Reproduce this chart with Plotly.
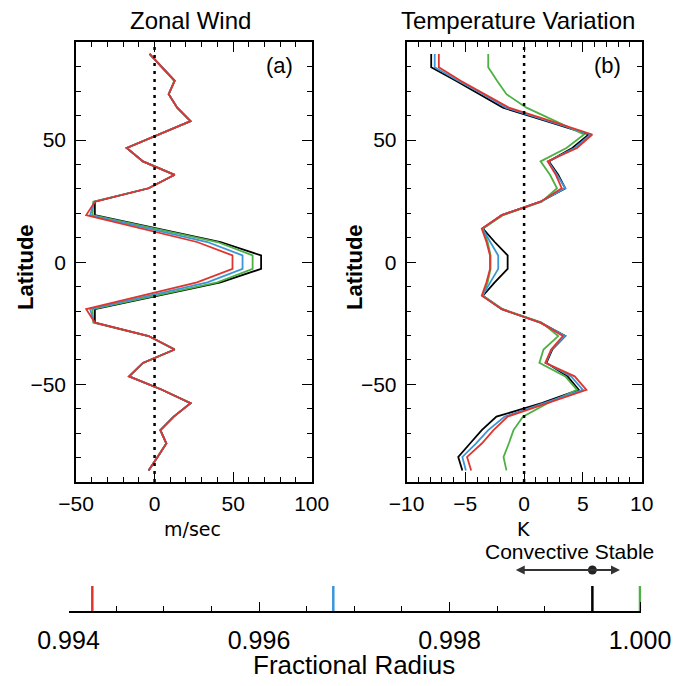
import plotly.graph_objects as go

# ---------------- data ----------------
lat = [85.25, 79.75, 74.25, 68.75, 63.25, 57.75, 52.25, 46.75, 41.25, 35.75, 30.25,
       24.75, 19.25, 13.75, 8.25, 2.75, -2.75, -8.25, -13.75, -19.25, -24.75,
       -30.25, -35.75, -41.25, -46.75, -52.25, -57.75, -63.25, -68.75, -74.25,
       -79.75, -85.25]

# Zonal wind (m/sec)
u_black = [-3.2, 4.9, 12.8, 9.0, 14.4, 22.9, 2.5, -17.7, -7.4, 12.8, -3.8,
           -38.0, -38.0, 3.0, 42.0, 67.8, 67.8, 42.0, 3.0, -38.0, -38.0,
           -3.8, 12.8, -7.4, -16.2, 4.7, 22.9, 12.2, 3.7, 7.5, 1.9, -3.8]
u_green = [-3.2, 4.9, 12.5, 9.0, 14.4, 22.9, 2.5, -17.7, -7.4, 12.8, -3.8,
           -39.0, -39.5, 1.0, 40.0, 62.4, 62.4, 40.0, 1.0, -39.5, -39.0,
           -3.8, 12.8, -7.4, -16.2, 4.7, 22.9, 12.2, 3.7, 7.5, 1.9, -3.8]
u_blue = [-3.2, 4.9, 12.8, 9.0, 14.4, 22.9, 2.5, -17.7, -7.4, 12.8, -3.8,
          -38.5, -41.0, -3.0, 33.6, 56.0, 56.0, 33.6, -3.0, -41.0, -38.5,
          -3.8, 12.8, -7.4, -16.2, 4.7, 22.9, 12.2, 3.7, 7.5, 1.9, -3.8]
u_red = [-3.2, 4.9, 12.8, 9.0, 14.4, 22.9, 2.5, -17.7, -7.4, 12.8, -3.8,
         -38.0, -43.5, -7.5, 27.0, 49.6, 49.6, 27.0, -7.5, -43.5, -38.0,
         -3.8, 12.8, -7.4, -16.2, 4.7, 22.9, 12.2, 3.7, 7.5, 1.9, -3.8]

# Temperature variation (K)
t_black = [-7.9, -7.9, -5.8, -3.75, -1.8, 1.9, 5.5, 4.1, 2.1, 2.9, 3.5,
           1.4, -1.9, -3.5, -2.5, -1.4, -1.4, -2.5, -3.5, -1.9, 1.4,
           3.5, 2.4, 1.9, 3.7, 4.65, 1.5, -2.35, -3.6, -4.6, -5.6, -5.25]
t_green = [-3.05, -3.05, -2.3, -1.5, 0.2, 2.6, 5.1, 3.6, 1.4, 2.2, 2.8,
           1.5, -1.8, -3.5, -3.1, -2.85, -2.85, -3.1, -3.5, -1.8, 1.5,
           2.9, 1.65, 1.3, 3.5, 4.5, 2.0, -0.1, -0.9, -1.3, -1.75, -1.5]
t_blue = [-7.6, -7.6, -5.6, -3.5, -1.55, 2.1, 5.65, 4.3, 2.05, 2.8, 3.5,
          1.4, -1.9, -3.55, -2.9, -2.2, -2.2, -2.9, -3.55, -1.9, 1.4,
          3.5, 2.35, 1.85, 4.0, 5.0, 1.7, -1.65, -3.05, -4.1, -5.25, -4.95]
t_red = [-7.25, -7.25, -5.4, -3.3, -1.3, 2.3, 5.8, 4.5, 2.0, 2.7, 3.2,
         1.4, -1.9, -3.6, -3.2, -2.9, -2.9, -3.2, -3.6, -1.9, 1.4,
         3.3, 2.3, 1.8, 4.3, 5.3, 2.0, -1.4, -2.6, -3.6, -4.85, -4.5]

# Fractional radius markers
radius_vals = [0.99425, 0.99678, 0.9995, 1.0]
radius_colors = ["#e0352f", "#3a96d8", "#000000", "#4cb043"]
stable_point = 0.9995
convective_left = 0.99868
stable_right = 0.99979
radius_ticks = [0.994, 0.996, 0.998, 1.000]

colors = {"black": "#000000", "green": "#4cb043", "blue": "#3a96d8", "red": "#e0352f"}

# page body has an 8px margin: figure sits at (8, 8) in the window
OFF = 8
W, H = 682 - OFF, 686 - OFF
def px(x):
    return (x - OFF) / W
def py(y):
    return 1 - (y - OFF) / H

FONT = "Liberation Sans, Arial, sans-serif"

fig = go.Figure()

# panel a
for name, vals in [("black", u_black), ("green", u_green), ("blue", u_blue), ("red", u_red)]:
    fig.add_trace(go.Scatter(x=vals, y=lat, mode="lines", xaxis="x", yaxis="y",
                             line=dict(color=colors[name], width=1.8), hoverinfo="skip"))
fig.add_trace(go.Scatter(x=[0, 0], y=[-90, 90], mode="lines", xaxis="x", yaxis="y",
                         line=dict(color="black", width=2.5, dash="3px,5px")))
# panel b
for name, vals in [("black", t_black), ("green", t_green), ("blue", t_blue), ("red", t_red)]:
    fig.add_trace(go.Scatter(x=vals, y=lat, mode="lines", xaxis="x2", yaxis="y2",
                             line=dict(color=colors[name], width=1.8), hoverinfo="skip"))
fig.add_trace(go.Scatter(x=[0, 0], y=[-90, 90], mode="lines", xaxis="x2", yaxis="y2",
                         line=dict(color="black", width=2.5, dash="3px,5px")))

# bottom radius axis
for v, c in zip(radius_vals, radius_colors):
    fig.add_trace(go.Scatter(x=[v, v], y=[0, 25], mode="lines", xaxis="x3", yaxis="y3",
                             line=dict(color=c, width=2.5)))
fig.add_trace(go.Scatter(x=[stable_point], y=[41], mode="markers", xaxis="x3", yaxis="y3",
                         marker=dict(color="#222222", size=9)))

ydom = [py(482), py(42.3)]
axis_common = dict(showline=True, linecolor="black", linewidth=1.5, mirror="allticks",
                   ticks="inside", ticklen=10, tickwidth=1.3, tickcolor="black",
                   showgrid=False, zeroline=False, automargin=False,
                   tickfont=dict(family=FONT, size=21, color="black"))

# small pad on the right of the radius axis so the 1.000 marker is not clipped
r_pad = 0.0000135
x3_right_px = 640 + 571.5 * r_pad / 0.006

fig.update_layout(
    template="none",
    font=dict(family=FONT, color="black"),
    width=W, height=H, margin=dict(l=0, r=0, t=0, b=0, pad=0, autoexpand=False),
    paper_bgcolor="white", plot_bgcolor="white", showlegend=False,
    xaxis=dict(domain=[px(76), px(311.7)], range=[-50, 100], anchor="y",
               tickvals=[-50, 0, 50, 100], minor=dict(dtick=10, ticks="inside", ticklen=5, tickcolor="black"),
               ticklabelstandoff=2, **axis_common),
    yaxis=dict(domain=ydom, range=[-90, 90], anchor="x",
               tickvals=[-50, 0, 50], minor=dict(dtick=10, ticks="inside", ticklen=5, tickcolor="black"),
               ticklabelstandoff=4, **axis_common),
    xaxis2=dict(domain=[px(406.5), px(641.7)], range=[-10, 10], anchor="y2",
                tickvals=[-10, -5, 0, 5, 10], minor=dict(dtick=1, ticks="inside", ticklen=5, tickcolor="black"),
                ticklabelstandoff=2, **axis_common),
    yaxis2=dict(domain=ydom, range=[-90, 90], anchor="x2",
                tickvals=[-50, 0, 50], minor=dict(dtick=10, ticks="inside", ticklen=5, tickcolor="black"),
                ticklabelstandoff=4, **axis_common),
    xaxis3=dict(domain=[px(68.5), px(x3_right_px)], range=[0.994, 1.000 + r_pad], anchor="y3",
                tickvals=radius_ticks, ticktext=["%.3f" % v for v in radius_ticks],
                showline=True, linecolor="black", linewidth=1.5, mirror=False,
                ticks="inside", ticklen=9, tickwidth=1.3, tickcolor="black",
                minor=dict(dtick=0.0005, ticks="inside", ticklen=5, tickcolor="black"),
                showgrid=False, zeroline=False, automargin=False, ticklabelstandoff=6,
                tickfont=dict(family=FONT, size=25, color="black")),
    yaxis3=dict(domain=[py(611), py(540)], range=[0, 71], anchor="x3", visible=False,
                automargin=False),
)

ann = [
    dict(text="Zonal Wind", x=px(190), y=py(21), font=dict(size=24)),
    dict(text="Temperature Variation", x=px(518), y=py(21), font=dict(size=24)),
    dict(text="<b>Latitude</b>", x=px(25), y=py(267), textangle=-90, font=dict(size=22)),
    dict(text="<b>Latitude</b>", x=px(354), y=py(267), textangle=-90, font=dict(size=22)),
    dict(text="(a)", x=px(279), y=py(66), font=dict(size=22)),
    dict(text="(b)", x=px(607), y=py(66), font=dict(size=22)),
    dict(text="m/sec", x=px(192.5), y=py(529), font=dict(size=19, family="DejaVu Sans")),
    dict(text="K", x=px(523.5), y=py(529), font=dict(size=19, family="DejaVu Sans")),
    dict(text="Fractional Radius", x=px(354), y=py(665), font=dict(size=26)),
]
annotations = []
for a in ann:
    f = dict(family=FONT, color="black")
    f.update(a.pop("font"))
    annotations.append(dict(xref="paper", yref="paper", showarrow=False,
                            xanchor="center", yanchor="middle", font=f, **a))

annotations.append(dict(xref="x3", yref="y3", x=0.99926, y=60, text="Convective Stable",
                        showarrow=False, xanchor="center", yanchor="middle",
                        font=dict(family=FONT, size=21, color="black")))
annotations.append(dict(xref="x3", yref="y3", axref="x3", ayref="y3",
                        x=stable_right, y=41, ax=convective_left, ay=41, text="",
                        showarrow=True, arrowhead=2, arrowside="end+start",
                        arrowsize=1, arrowwidth=1.8, arrowcolor="#333333"))
fig.update_layout(annotations=annotations)

fig.write_html("out.html")
